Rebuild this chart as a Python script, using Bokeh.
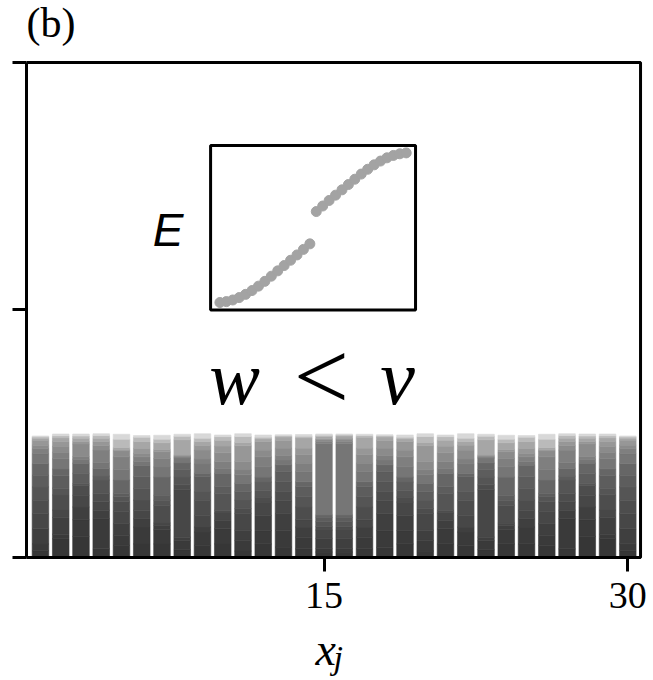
from bokeh.plotting import figure
from bokeh.models import Range1d, FixedTicker, Label, BoxAnnotation, ColumnDataSource
from bokeh.embed import file_html
from bokeh.resources import INLINE

# Lattice sites of the 30-site chain
sites = list(range(1, 31))

# Site densities of the 15 occupied states, stacked from the lowest state
# upward, in thousandths (one row per site)
band_density_milli = [
    [28, 27, 61, 61, 54, 54, 47, 47, 41, 20, 14, 20, 8, 5, 4],
    [76, 18, 68, 30, 61, 27, 50, 28, 41, 26, 24, 20, 14, 9, 7],
    [85, 68, 51, 47, 41, 7, 41, 41, 16, 11, 51, 9, 14, 9, 8],
    [35, 122, 34, 34, 34, 54, 16, 31, 23, 51, 18, 16, 14, 11, 7],
    [49, 41, 47, 50, 38, 20, 14, 54, 43, 51, 24, 5, 8, 34, 20],
    [55, 68, 34, 34, 41, 47, 47, 47, 14, 20, 14, 20, 27, 18, 7],
    [55, 57, 18, 9, 72, 20, 20, 74, 41, 34, 27, 9, 28, 14, 16],
    [32, 36, 14, 192, 20, 31, 30, 27, 20, 4, 4, 4, 62, 14, 8],
    [49, 54, 20, 47, 61, 34, 61, 14, 38, 20, 36, 20, 14, 14, 18],
    [55, 61, 34, 30, 11, 68, 27, 54, 20, 27, 36, 27, 24, 14, 7],
    [26, 43, 41, 68, 20, 34, 34, 34, 34, 20, 34, 63, 14, 24, 11],
    [55, 54, 61, 54, 20, 27, 34, 20, 41, 41, 27, 34, 11, 7, 9],
    [42, 68, 68, 51, 36, 41, 41, 27, 20, 18, 30, 31, 14, 5, 4],
    [35, 47, 41, 30, 51, 41, 41, 20, 41, 34, 34, 27, 41, 7, 7],
    [22, 14, 41, 34, 14, 20, 18, 9, 288, 9, 7, 4, 9, 5, 5],
    [22, 14, 41, 34, 14, 20, 18, 9, 288, 9, 9, 4, 9, 4, 4],
    [35, 47, 41, 30, 51, 41, 41, 20, 41, 34, 34, 27, 44, 7, 5],
    [41, 68, 68, 52, 36, 41, 41, 27, 20, 18, 30, 31, 14, 5, 4],
    [55, 54, 61, 54, 20, 27, 34, 20, 41, 41, 27, 34, 11, 7, 9],
    [26, 43, 41, 68, 20, 34, 34, 34, 34, 20, 34, 63, 14, 24, 11],
    [55, 61, 34, 30, 11, 68, 27, 54, 20, 27, 36, 27, 24, 14, 7],
    [49, 54, 20, 47, 61, 34, 61, 14, 38, 20, 36, 20, 14, 14, 18],
    [32, 36, 14, 192, 20, 31, 30, 27, 20, 4, 4, 4, 62, 14, 8],
    [55, 57, 18, 9, 72, 20, 20, 74, 41, 34, 27, 9, 28, 14, 16],
    [55, 68, 34, 34, 41, 47, 47, 47, 14, 20, 14, 20, 27, 18, 7],
    [49, 41, 47, 50, 38, 20, 14, 54, 43, 51, 24, 5, 8, 34, 20],
    [35, 122, 34, 34, 34, 54, 16, 31, 23, 51, 18, 16, 14, 11, 7],
    [85, 68, 51, 47, 41, 7, 41, 41, 16, 11, 51, 9, 14, 9, 8],
    [76, 18, 68, 30, 61, 27, 50, 28, 41, 26, 24, 20, 14, 9, 7],
    [28, 27, 61, 61, 54, 54, 47, 47, 41, 20, 14, 20, 8, 5, 4],
]

# Gray level of each occupied state, lowest state first
band_grays = [
    "#363636", "#3a3a3a", "#3f3f3f", "#474747", "#4d4d4d",
    "#555555", "#5d5d5d", "#666666", "#767676", "#7f7f7f",
    "#8b8b8b", "#979797", "#a6a6a6", "#bababa", "#d8d8d8",
]

# Inset spectrum: eigenvalue index and energy (scaled to the band edge)
level_index = list(range(1, 31))
energy_lower = [-1.000, -0.988, -0.966, -0.934, -0.891, -0.840, -0.781, -0.717,
                -0.648, -0.577, -0.506, -0.435, -0.364, -0.290, -0.216]
energy_upper = [0.216, 0.290, 0.364, 0.435, 0.506, 0.577, 0.648, 0.717,
                0.781, 0.840, 0.891, 0.934, 0.966, 0.988, 1.000]

x_ticks = [15, 30]
y_ticks = [0, 1, 2]

SERIF = "Liberation Serif"
X0, X1 = 0.31, 31.27       # plotted site range (extra room on the right for "30")
BOX_RIGHT = 30.63          # right edge of the axes box
Y_BOX = 2.0                # top edge of the axes box
Y_MIN, Y_TOP = -0.497, 2.2505   # room below / above the box for the texts

p = figure(width=653, height=680,
           x_range=Range1d(X0, X1), y_range=Range1d(Y_MIN, Y_TOP),
           output_backend="svg", toolbar_location=None,
           min_border_left=26, min_border_right=0,
           min_border_top=0, min_border_bottom=0)
p.background_fill_color = "white"
p.border_fill_color = "white"
p.outline_line_color = None
p.xgrid.visible = False
p.ygrid.visible = False

# Stacked site densities
n_states = len(band_grays)
stackers = [f"state_{k}" for k in range(n_states)]
data = {"site": sites}
for k in range(n_states):
    data[stackers[k]] = [row[k] / 1000.0 for row in band_density_milli]
src = ColumnDataSource(data)
p.vbar_stack(stackers, x="site", width=0.82, color=band_grays, line_width=0.6,
             source=src)

# Axes box
p.add_layout(BoxAnnotation(left=X0, right=BOX_RIGHT, bottom=0, top=Y_BOX,
                           fill_color=None, line_color="black",
                           line_alpha=1.0, line_width=3))

# Axes
for ax in (p.xaxis, p.yaxis):
    ax.axis_line_width = 3
    ax.axis_line_color = "black"
    ax.major_tick_line_width = 3
    ax.major_tick_line_color = "black"
    ax.major_tick_out = 14
    ax.major_tick_in = 0
    ax.minor_tick_line_color = None

p.xaxis.fixed_location = 0
p.xaxis.bounds = (X0, BOX_RIGHT)
p.xaxis.ticker = FixedTicker(ticks=x_ticks)
p.xaxis.major_label_text_font = SERIF
p.xaxis.major_label_text_font_size = "38px"
p.xaxis.major_label_text_color = "black"
p.xaxis.major_label_standoff = 12

p.yaxis.ticker = FixedTicker(ticks=y_ticks)
p.yaxis.bounds = (0, Y_BOX)
p.yaxis.major_label_overrides = {t: "" for t in y_ticks}
p.yaxis.major_label_text_font_size = "1px"

# Inset: single-particle spectrum
inset = p.subplot(
    x_source=Range1d(-0.45, 31.45), y_source=Range1d(-1.1, 1.1),
    x_target=Range1d(9.40, 19.52), y_target=Range1d(1.0, 1.665),
)
inset.scatter(level_index[:15], energy_lower, size=10, color="#a3a3a3")
inset.scatter(level_index[15:], energy_upper, size=10, color="#a3a3a3")
p.add_layout(BoxAnnotation(left=9.40, right=19.52, bottom=1.0, top=1.665,
                           fill_color=None, line_color="black",
                           line_alpha=1.0, line_width=3))

# Text (screen offsets measured from the frame's lower-left corner)
def add_text(txt, x, y, size, font=SERIF, style="normal", align="left",
             baseline="alphabetic"):
    p.add_layout(Label(x=x, y=y, x_units="screen", y_units="screen", text=txt,
                       text_font=font, text_font_size=size,
                       text_font_style=style, text_align=align,
                       text_baseline=baseline, text_color="black"))

add_text("(b)", 0, 658, "42px", baseline="middle")
add_text("E", 157, 451, "46px", font="Liberation Sans", style="italic",
         align="right", baseline="middle")
add_text("w", 208, 303, "76px", style="italic", align="center")
add_text("<", 295, 305, "98px", align="center")
add_text("v", 371, 303, "78px", style="italic", align="center")
add_text("x", 289, 31, "46px", style="italic")
add_text("j", 307, 23, "34px", style="italic")

open("out.html", "w").write(file_html(p, INLINE))
